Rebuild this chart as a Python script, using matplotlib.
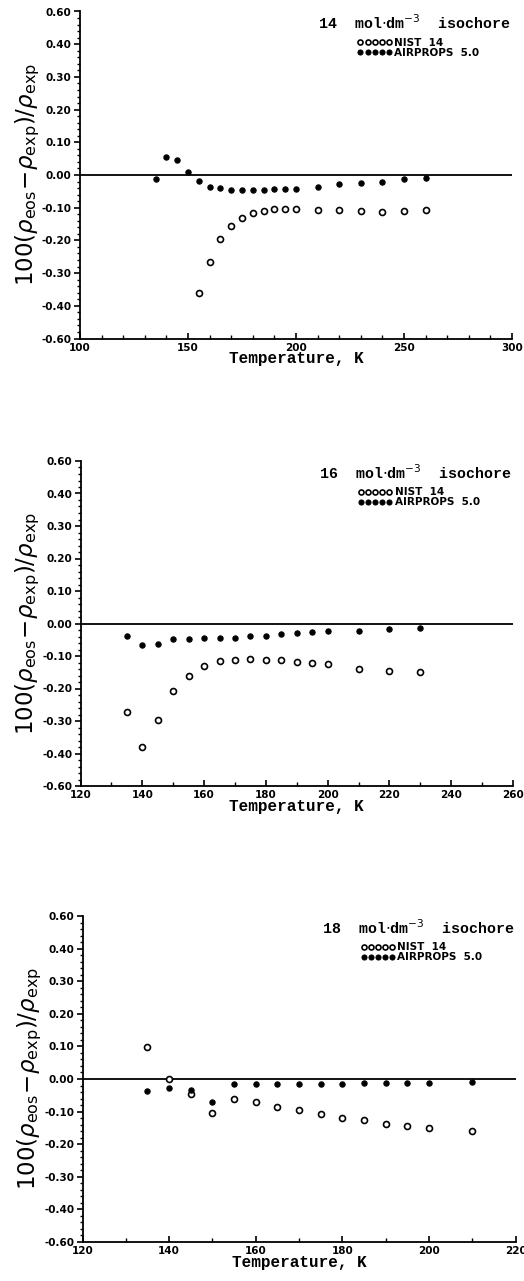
import matplotlib
matplotlib.use('Agg')
import matplotlib.pyplot as plt
from matplotlib.ticker import FixedLocator, MultipleLocator

# isochore 14 mol/dm3
t14_nist = [155, 160, 165, 170, 175, 180, 185, 190, 195, 200, 210, 220, 230, 240, 250, 260]
d14_nist = [-0.362, -0.267, -0.196, -0.157, -0.132, -0.116, -0.109, -0.105, -0.103, -0.105,
            -0.107, -0.107, -0.110, -0.113, -0.111, -0.108]
t14_air = [135, 140, 145, 150, 155, 160, 165, 170, 175, 180, 185, 190, 195, 200,
           210, 220, 230, 240, 250, 260]
d14_air = [-0.013, 0.054, 0.046, 0.009, -0.017, -0.038, -0.040, -0.045, -0.046, -0.046,
           -0.045, -0.044, -0.042, -0.042, -0.037, -0.029, -0.024, -0.020, -0.012, -0.008]

# isochore 16 mol/dm3
t16 = [135, 140, 145, 150, 155, 160, 165, 170, 175, 180, 185, 190, 195, 200, 210, 220, 230]
d16_nist = [-0.272, -0.379, -0.296, -0.208, -0.161, -0.130, -0.114, -0.113, -0.109, -0.113,
            -0.112, -0.118, -0.121, -0.124, -0.139, -0.145, -0.149]
d16_air = [-0.037, -0.065, -0.064, -0.047, -0.049, -0.046, -0.044, -0.045, -0.039, -0.039,
           -0.031, -0.030, -0.027, -0.023, -0.023, -0.018, -0.015]

# isochore 18 mol/dm3
t18 = [135, 140, 145, 150, 155, 160, 165, 170, 175, 180, 185, 190, 195, 200, 210]
d18_nist = [0.099, 0.000, -0.045, -0.103, -0.061, -0.071, -0.087, -0.096, -0.107, -0.119,
            -0.126, -0.138, -0.145, -0.151, -0.160]
d18_air = [-0.038, -0.027, -0.035, -0.072, -0.015, -0.014, -0.016, -0.015, -0.015, -0.015,
           -0.011, -0.013, -0.012, -0.011, -0.010]

y_ticks = [0.5, 0.4, 0.3, 0.2, 0.1, 0.0, -0.1, -0.2, -0.3, -0.4, -0.5]
y_labels = ['0.60', '0.40', '0.30', '0.20', '0.10', '0.00', '-0.10', '-0.20', '-0.30', '-0.40', '-0.60']

panels = [
    dict(title='14', nist=(t14_nist, d14_nist), air=(t14_air, d14_air),
         xlim=(100, 300), xmaj=50, rect=(80, 11.5, 512, 338.5)),
    dict(title='16', nist=(t16, d16_nist), air=(t16, d16_air),
         xlim=(120, 260), xmaj=20, rect=(80.5, 461, 513, 786)),
    dict(title='18', nist=(t18, d18_nist), air=(t18, d18_air),
         xlim=(120, 220), xmaj=20, rect=(82.5, 916, 515.5, 1242)),
]

W, H = 524, 1281
fig = plt.figure(figsize=(W / 100, H / 100), dpi=100)

for p in panels:
    x0, y0, x1, y1 = p['rect']
    ax = fig.add_axes([x0 / W, 1 - y1 / H, (x1 - x0) / W, (y1 - y0) / H])
    ax.set_xlim(*p['xlim'])
    ax.set_ylim(-0.5, 0.5)
    ax.axhline(0, color='black', lw=1.3, zorder=1)
    ax.plot(p['nist'][0], p['nist'][1], 'o', ls='none', mfc='white', mec='black',
            ms=4.3, mew=1.2, label='NIST  14', zorder=3)
    ax.plot(p['air'][0], p['air'][1], 'o', ls='none', mfc='black', mec='black',
            ms=3.8, mew=0.8, label='AIRPROPS  5.0', zorder=3)

    for s in ['top', 'right']:
        ax.spines[s].set_visible(False)
    for s in ['left', 'bottom']:
        ax.spines[s].set_linewidth(1.3)

    ax.yaxis.set_major_locator(FixedLocator(y_ticks))
    ax.set_yticklabels(y_labels)
    ax.yaxis.set_minor_locator(MultipleLocator(0.02))
    ax.xaxis.set_major_locator(MultipleLocator(p['xmaj']))
    ax.xaxis.set_minor_locator(MultipleLocator(10))
    ax.tick_params(axis='y', which='major', direction='out', length=4, width=1.2, pad=2)
    ax.tick_params(axis='y', which='minor', direction='out', length=2.5, width=1.0)
    ax.tick_params(axis='x', which='major', direction='in', length=4, width=1.2, pad=3)
    ax.tick_params(axis='x', which='minor', direction='in', length=3, width=1.0)
    for lab in ax.get_xticklabels() + ax.get_yticklabels():
        lab.set_fontweight('bold')
        lab.set_fontsize(7.5)
        lab.set_family('DejaVu Sans')

    ax.set_xlabel('Temperature, K', fontsize=11.5, fontweight='bold',
                  family='Liberation Mono', labelpad=-1)
    ax.set_ylabel(r'$100(\rho_{\rm eos}\!-\!\rho_{\rm exp})/\rho_{\rm exp}$', fontsize=16.5, labelpad=0)

    ax.text(0.998, 0.965, p['title'] + r'  mol$\cdot$dm$^{-3}$  isochore', transform=ax.transAxes,
            ha='right', va='center', fontsize=10.8, fontweight='bold', family='Liberation Mono')

    leg = ax.legend(loc='upper left', bbox_to_anchor=(0.63, 0.935), frameon=False,
                    numpoints=5, handlelength=3.3, handletextpad=0.2, labelspacing=0.0,
                    borderpad=0, prop=dict(size=7.5, weight='bold'))
    for h in leg.legend_handles:
        h.set_markersize(3.6)

fig.savefig('out.png', dpi=100)
